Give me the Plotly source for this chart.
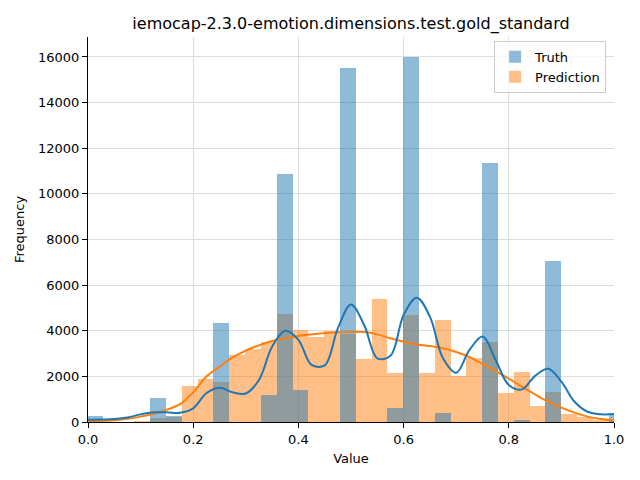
import numpy as np
import plotly.graph_objects as go

# histogram bins (34 bins over the data range, plot clipped to [0, 1])
bin_lo = -0.002
bin_width = 0.03006
n_bins = 34
bin_centers = bin_lo + (np.arange(n_bins) + 0.5) * bin_width

truth_counts = [260, 0, 0, 0, 1050, 250, 0, 0, 4340, 0,
                0, 1180, 10850, 1410, 0, 0, 15520, 0, 0, 620,
                16000, 0, 380, 0, 0, 11350, 0, 80, 0, 7050,
                0, 0, 0, 300]
pred_counts = [0, 5, 15, 40, 180, 230, 1570, 1880, 1750, 2930,
               3190, 3500, 4730, 4030, 3720, 3980, 3850, 2760, 5390, 2130,
               4680, 2130, 4470, 2000, 2790, 3500, 1270, 2190, 700, 1310,
               350, 200, 80, 30]

# kde curves (scaled to counts)
kde_x = [0.0, 0.025, 0.05, 0.075, 0.1, 0.125, 0.15, 0.175, 0.2, 0.225,
         0.25, 0.275, 0.3, 0.325, 0.35, 0.375, 0.4, 0.425, 0.45, 0.475,
         0.5, 0.525, 0.55, 0.575, 0.6, 0.625, 0.65, 0.675, 0.7, 0.725,
         0.75, 0.775, 0.8, 0.825, 0.85, 0.875, 0.9, 0.925, 0.95, 0.975, 1.0]
truth_kde = [100, 110, 130, 195, 335, 425, 425, 405, 600, 1260,
             1500, 1300, 1250, 1840, 3300, 4000, 3600, 2500, 2480, 4100,
             5150, 4250, 2790, 2900, 4690, 5450, 4620, 2790, 2160, 3150,
             3750, 2720, 1620, 1430, 2020, 2330, 1770, 890, 450, 340, 350]
pred_kde = [40, 55, 75, 140, 235, 365, 540, 780, 1300, 1990,
            2420, 2830, 3130, 3360, 3550, 3670, 3770, 3840, 3900, 3930,
            3945, 3945, 3840, 3670, 3520, 3400, 3330, 3230, 3070, 2850,
            2540, 2235, 1900, 1550, 1210, 890, 630, 410, 235, 130, 73]

blue = "#1f77b4"
orange = "#ff7f0e"

fig = go.Figure()
# prediction drawn first, truth layered on top (seaborn layer order)
fig.add_trace(go.Bar(x=bin_centers, y=pred_counts, width=bin_width, name="Prediction",
                     marker=dict(color="rgba(255,127,14,0.5)", line=dict(width=0)),
                     legendrank=2))
fig.add_trace(go.Bar(x=bin_centers, y=truth_counts, width=bin_width, name="Truth",
                     marker=dict(color="rgba(31,119,180,0.5)", line=dict(width=0)),
                     legendrank=1))
fig.add_trace(go.Scatter(x=kde_x, y=pred_kde, mode="lines", line=dict(color=orange, width=2, shape="spline"),
                         showlegend=False, hoverinfo="skip"))
fig.add_trace(go.Scatter(x=kde_x, y=truth_kde, mode="lines", line=dict(color=blue, width=2, shape="spline"),
                         showlegend=False, hoverinfo="skip"))

# the page adds an 8px body margin, so margins are shifted to compensate
fig.update_layout(
    width=640, height=480,
    barmode="overlay", bargap=0,
    plot_bgcolor="white", paper_bgcolor="white",
    margin=dict(l=80, r=34, t=29, b=66),
    font=dict(family="DejaVu Sans", size=13, color="black"),
    title=dict(text="iemocap-2.3.0-emotion.dimensions.test.gold_standard",
               x=0.5, xref="paper", xanchor="center",
               y=1 - 15 / 480, yref="container", yanchor="middle",
               font=dict(size=16)),
    legend=dict(x=0.985, y=0.99, xanchor="right", yanchor="top",
                bgcolor="rgba(255,255,255,0.8)", bordercolor="#cccccc", borderwidth=1,
                font=dict(size=13)),
)

fig.update_xaxes(range=[0, 1], tickvals=[0, 0.2, 0.4, 0.6, 0.8, 1.0],
                 ticktext=["0.0", "0.2", "0.4", "0.6", "0.8", "1.0"],
                 showgrid=True, gridcolor="#dddddd", zeroline=False,
                 showline=True, linecolor="black", linewidth=1,
                 ticks="outside", ticklen=5, tickcolor="black",
                 title=dict(text="Value", standoff=8, font=dict(size=13)))
fig.update_yaxes(range=[0, 16876], tickvals=list(range(0, 16001, 2000)), tickformat="d",
                 showgrid=True, gridcolor="#dddddd", zeroline=False,
                 showline=True, linecolor="black", linewidth=1,
                 ticks="outside", ticklen=5, tickcolor="black",
                 title=dict(text="Frequency", standoff=10, font=dict(size=13)))

fig.write_html("out.html")
